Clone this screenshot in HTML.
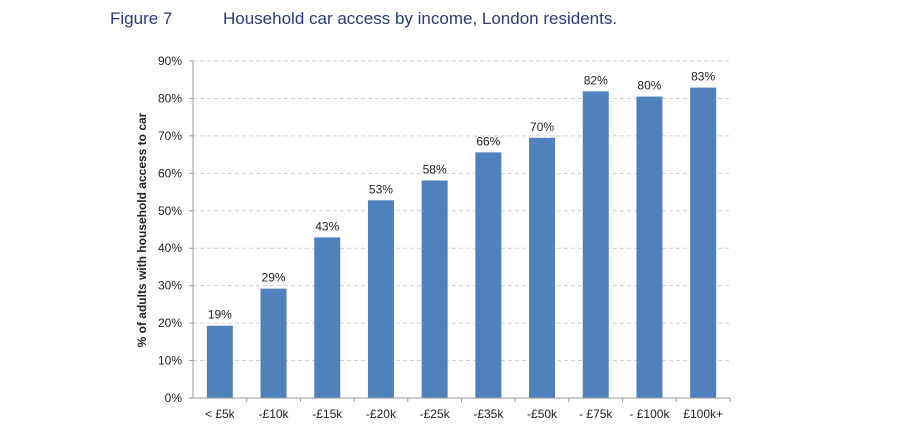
<!DOCTYPE html>
<html><head><meta charset="utf-8"><style>
body{margin:0;background:#fff;width:900px;height:439px;overflow:hidden;font-family:"Liberation Sans",sans-serif}
</style></head><body>
<svg width="900" height="439" xmlns="http://www.w3.org/2000/svg">
<text x="110" y="24" font-size="17" fill="#2a3a7c">Figure 7</text>
<text x="223" y="24" font-size="17" fill="#2a3a7c">Household car access by income, London residents.</text>
<text transform="translate(146,230) rotate(-90)" text-anchor="middle" font-size="12" font-weight="bold" fill="#222">% of adults with household access to car</text>
<g id="grid"></g><g id="bars"></g><g id="axes"></g>
</svg>
<script>
const categories=["< £5k","-£10k","-£15k","-£20k","-£25k","-£35k","-£50k","- £75k","- £100k","£100k+"];
const values=[19.3,29.2,42.9,52.8,58.1,65.6,69.5,81.9,80.5,82.9];
const valueLabels=["19%","29%","43%","53%","58%","66%","70%","82%","80%","83%"];
const yTicks=[0,10,20,30,40,50,60,70,80,90];
const NS="http://www.w3.org/2000/svg";
const x0=193,x1=730,y0=398,y1=61,ymax=90;
const band=(x1-x0)/categories.length;
const y=v=>y0-(v/ymax)*(y0-y1);
const xc=i=>x0+band*(i+0.5);
function mk(t,a,p){const e=document.createElementNS(NS,t);for(const k in a)e.setAttribute(k,a[k]);p.appendChild(e);return e;}
const grid=document.getElementById('grid'),bars=document.getElementById('bars'),axes=document.getElementById('axes');
yTicks.forEach(t=>{
 if(t>0){const g=mk('line',{x1:x0,x2:x1,y1:y(t),y2:y(t),stroke:'#d0d0d0','stroke-dasharray':'4,3'},grid);
 
 }
 const l=mk('text',{x:x0-11,y:y(t)+4,'text-anchor':'end','font-size':'12',fill:'#222'},axes);l.textContent=t+'%';
 
 
 mk('line',{x1:x0-4,x2:x0,y1:y(t),y2:y(t),stroke:'#999'},axes);
});
categories.forEach((c,i)=>{
 const bw=26;
 const r=mk('rect',{x:xc(i)-bw/2,y:y(values[i]),width:bw,height:y0-y(values[i]),fill:'#4f81bd'},bars);
 
 
 const v=mk('text',{x:xc(i),y:y(values[i])-7,'text-anchor':'middle','font-size':'12',fill:'#222'},bars);v.textContent=valueLabels[i];
 
 
 const cl=mk('text',{x:xc(i),y:y0+20,'text-anchor':'middle','font-size':'12',fill:'#222'},axes);cl.textContent=c;
 
 
 mk('line',{x1:x0+band*(i+1),x2:x0+band*(i+1),y1:y0,y2:y0+4,stroke:'#999'},axes);
});
mk('line',{x1:x0,x2:x0,y1:y1,y2:y0,stroke:'#999'},axes);
mk('line',{x1:x0,x2:x1,y1:y0,y2:y0,stroke:'#999'},axes);
</script>
</body></html>
